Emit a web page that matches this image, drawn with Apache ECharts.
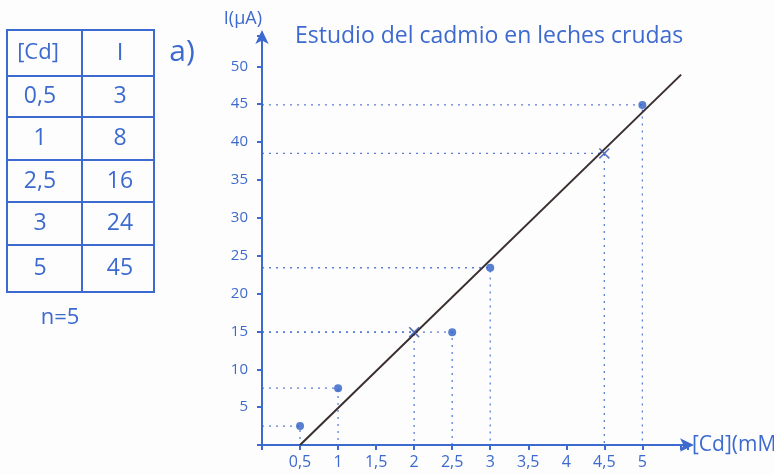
<!DOCTYPE html>
<html>
<head>
<meta charset="utf-8">
<script src="https://cdn.jsdelivr.net/npm/echarts@6/dist/echarts.min.js"></script>
<style>
  html, body { margin: 0; padding: 0; background: #fdfdfd; }
  #chart { width: 774px; height: 475px; }
</style>
</head>
<body>
<div id="chart"></div>
<script>
// table written on the left
var tableConc = [0.5, 1, 2.5, 3, 5];
var tableI = [3, 8, 16, 24, 45];
var nSamples = 5;

// points drawn on the graph
var pointX = [0.5, 1, 2.5, 3, 5];
var pointY = [2.5, 7.5, 14.9, 23.4, 44.9];
// crosses
var crossX = [2, 4.5];
var crossY = [14.9, 38.5];
// fitted line ends
var fitX = [0.5, 5.51];
var fitY = [0, 48.9];

var xTicks = [0.5, 1, 1.5, 2, 2.5, 3, 3.5, 4, 4.5, 5];
var yTicks = [5, 10, 15, 20, 25, 30, 35, 40, 45, 50];

var pen = '#3d6acf';
var font = '"Open Sans", sans-serif';

function comma(v) { return String(v).replace('.', ','); }

var dom = document.getElementById('chart');
var myChart = echarts.init(dom);

// dotted guides from each mark back to the axes
var guides = [];
var allX = pointX.concat(crossX);
var allY = pointY.concat(crossY);
for (var i = 0; i < allX.length; i++) {
    guides.push({
        type: 'line',
        data: [[0, allY[i]], [allX[i], allY[i]], [allX[i], 0]],
        symbol: 'none',
        silent: true,
        z: 1,
        lineStyle: { color: pen, width: 1.3, type: [2, 5], opacity: 0.85 }
    });
}

// the table as graphic elements
var rowTop = [30, 76, 117, 160, 202, 245, 292];
var tableGfx = [
    { type: 'rect', shape: { x: 7, y: 30, width: 147, height: 262 }, style: { fill: 'none', stroke: pen, lineWidth: 2 } },
    { type: 'line', shape: { x1: 82, y1: 30, x2: 82, y2: 292 }, style: { stroke: pen, lineWidth: 2 } },
    { type: 'text', x: 38, y: 53, style: { text: '[Cd]', fill: pen, font: '22px ' + font, align: 'center', verticalAlign: 'middle' } },
    { type: 'text', x: 120, y: 53, style: { text: 'I', fill: pen, font: '24px ' + font, align: 'center', verticalAlign: 'middle' } },
    { type: 'text', x: 60, y: 318, style: { text: 'n=' + nSamples, fill: pen, font: '22px ' + font, align: 'center', verticalAlign: 'middle' } },
    { type: 'text', x: 182, y: 52, style: { text: 'a)', fill: pen, font: '30px ' + font, align: 'center', verticalAlign: 'middle' } }
];
for (var r = 0; r < tableConc.length; r++) {
    var y0 = rowTop[r + 1], y1 = rowTop[r + 2];
    tableGfx.push({ type: 'line', shape: { x1: 7, y1: y0, x2: 154, y2: y0 }, style: { stroke: pen, lineWidth: 2 } });
    tableGfx.push({ type: 'text', x: 40, y: (y0 + y1) / 2, style: { text: comma(tableConc[r]), fill: pen, font: '23px ' + font, align: 'center', verticalAlign: 'middle' } });
    tableGfx.push({ type: 'text', x: 120, y: (y0 + y1) / 2, style: { text: String(tableI[r]), fill: pen, font: '23px ' + font, align: 'center', verticalAlign: 'middle' } });
}

var option = {
    backgroundColor: '#fdfdfd',
    animation: false,
    title: {
        text: 'Estudio del cadmio en leches crudas',
        left: 290,
        top: 20,
        textStyle: { color: pen, fontFamily: font, fontSize: 23, fontWeight: 'normal' }
    },
    graphic: tableGfx,
    grid: { left: 262, right: 86, top: 36, bottom: 30, outerBoundsMode: 'none', containLabel: false },
    xAxis: {
        type: 'value',
        min: 0,
        max: 5.6,
        interval: 0.5,
        name: '[Cd](mM)',
        nameLocation: 'end',
        nameGap: 4,
        nameTextStyle: { color: pen, fontFamily: font, fontSize: 21, verticalAlign: 'middle' },
        splitLine: { show: false },
        axisLine: { lineStyle: { color: pen, width: 2 }, symbol: ['none', 'arrow'], symbolSize: [10, 14], symbolOffset: [0, 6] },
        axisTick: { lineStyle: { color: pen, width: 2 }, length: 5, inside: false },
        axisLabel: {
            color: pen, fontFamily: font, fontSize: 16, margin: 9,
            formatter: function (v) { return xTicks.indexOf(v) >= 0 ? comma(v) : ''; }
        }
    },
    yAxis: {
        type: 'value',
        min: 0,
        max: 54,
        interval: 5,
        name: 'I(μA)',
        nameLocation: 'end',
        nameGap: 8,
        nameTextStyle: { color: pen, fontFamily: font, fontSize: 18, align: 'right', padding: [0, 0, 0, 0] },
        splitLine: { show: false },
        axisLine: { lineStyle: { color: pen, width: 2 }, symbol: ['none', 'arrow'], symbolSize: [10, 14], symbolOffset: [0, 6] },
        axisTick: { lineStyle: { color: pen, width: 2 }, length: 5 },
        axisLabel: {
            color: pen, fontFamily: font, fontSize: 15, margin: 14,
            formatter: function (v) { return yTicks.indexOf(v) >= 0 ? String(v) : ''; }
        }
    },
    series: guides.concat([
        {
            type: 'line',
            data: [[fitX[0], fitY[0]], [fitX[1], fitY[1]]],
            symbol: 'none',
            z: 3,
            lineStyle: { color: '#3a2e2e', width: 2 }
        },
        {
            type: 'scatter',
            data: pointX.map(function (x, i) { return [x, pointY[i]]; }),
            symbol: 'circle',
            symbolSize: 8,
            z: 4,
            itemStyle: { color: '#2f5fc4' }
        },
        {
            type: 'scatter',
            data: crossX.map(function (x, i) { return [x, crossY[i]]; }),
            symbol: 'path://M0,1L1,0L5,4L9,0L10,1L6,5L10,9L9,10L5,6L1,10L0,9L4,5Z',
            symbolSize: 11,
            z: 4,
            itemStyle: { color: '#2f4fa8' }
        }
    ])
};
myChart.setOption(option, true);

window.onresize = function () {
    myChart.resize();
};
</script>
</body>
</html>
